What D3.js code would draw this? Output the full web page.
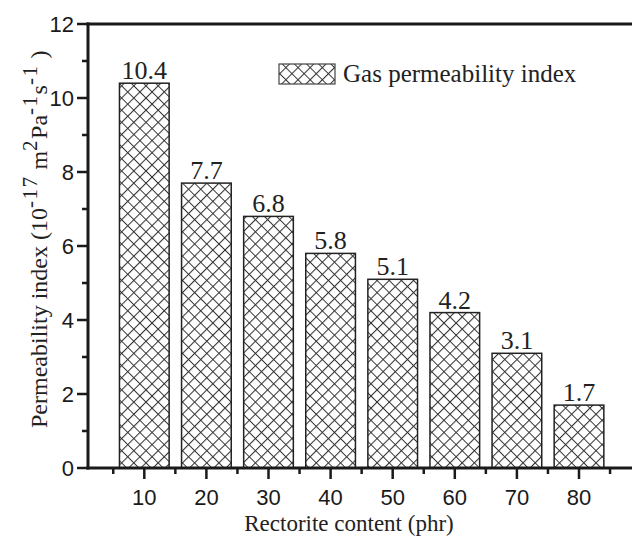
<!DOCTYPE html>
<html><head><meta charset="utf-8">
<script src="https://cdn.jsdelivr.net/npm/d3@7/dist/d3.min.js"></script>
<style>body{margin:0;background:#fff}svg{display:block}</style>
</head><body>
<svg id="chart" width="632" height="539"></svg>
<script>
const categories = [10, 20, 30, 40, 50, 60, 70, 80];
const values = [10.4, 7.7, 6.8, 5.8, 5.1, 4.2, 3.1, 1.7];
const labels = ["10.4", "7.7", "6.8", "5.8", "5.1", "4.2", "3.1", "1.7"];
const yTicks = [0, 2, 4, 6, 8, 10, 12];
const yMinor = [1, 3, 5, 7, 9, 11];
const xTicks = [10, 20, 30, 40, 50, 60, 70, 80];
const xMinor = [5, 15, 25, 35, 45, 55, 65, 75, 85];
const legendLabel = "Gas permeability index";
const xTitle = "Rectorite content (phr)";

const svg = d3.select("#chart");
const serif = "'Liberation Serif','Times New Roman',serif";
const sans = "'Liberation Sans',Arial,sans-serif";

const x = d3.scaleLinear().domain([10, 80]).range([144.3, 579]);
const y = d3.scaleLinear().domain([0, 12]).range([468, 24]);
const barHalf = 4;

// hatch pattern
const defs = svg.append("defs");
defs.append("pattern").attr("id", "hatch").attr("patternUnits", "userSpaceOnUse")
  .attr("width", 8.6).attr("height", 8.6).attr("patternTransform", "rotate(45)")
  .append("path").attr("d", "M0,0.5H8.6M0.5,0V8.6")
  .attr("stroke", "#333").attr("stroke-width", 1.1).attr("fill", "none");

// bars
svg.append("g").selectAll("rect").data(categories).join("rect")
  .attr("x", (d) => x(d - barHalf))
  .attr("width", (d) => x(d + barHalf) - x(d - barHalf))
  .attr("y", (d, i) => y(values[i]))
  .attr("height", (d, i) => y(0) - y(values[i]))
  .attr("fill", "url(#hatch)").attr("stroke", "#222").attr("stroke-width", 1.5);

// bar labels
svg.append("g").selectAll("text").data(categories).join("text")
  .attr("x", (d) => x(d)).attr("y", (d, i) => y(values[i]) - 4)
  .attr("text-anchor", "middle").attr("font-family", serif).attr("font-size", 26)
  .attr("fill", "#222").text((d, i) => labels[i]);

// axes
const ax = svg.append("g").attr("stroke", "#1a1a1a").attr("stroke-width", 3);
ax.append("line").attr("x1", 88).attr("x2", 88).attr("y1", y(12) - 1.5).attr("y2", y(0) + 1.5);
ax.append("line").attr("x1", 86.5).attr("x2", 632).attr("y1", y(0)).attr("y2", y(0));
ax.append("line").attr("x1", 86.5).attr("x2", 632).attr("y1", y(12)).attr("y2", y(12));

const tk = svg.append("g").attr("stroke", "#1a1a1a").attr("stroke-width", 2.5);
tk.selectAll(".ym").data(yTicks).join("line")
  .attr("x1", 77).attr("x2", 88).attr("y1", (d) => y(d)).attr("y2", (d) => y(d));
tk.selectAll(".yn").data(yMinor).join("line")
  .attr("x1", 82).attr("x2", 88).attr("y1", (d) => y(d)).attr("y2", (d) => y(d));
tk.selectAll(".xm").data(xTicks).join("line")
  .attr("x1", (d) => x(d)).attr("x2", (d) => x(d)).attr("y1", 468).attr("y2", 479);
tk.selectAll(".xn").data(xMinor).join("line")
  .attr("x1", (d) => x(d)).attr("x2", (d) => x(d)).attr("y1", 468).attr("y2", 474);

svg.append("g").selectAll("text").data(yTicks).join("text")
  .attr("x", 74).attr("y", (d) => y(d) + 8).attr("text-anchor", "end")
  .attr("font-family", sans).attr("font-size", 22).attr("fill", "#1a1a1a").text((d) => d);
svg.append("g").selectAll("text").data(xTicks).join("text")
  .attr("x", (d) => x(d)).attr("y", 505).attr("text-anchor", "middle")
  .attr("font-family", sans).attr("font-size", 22).attr("fill", "#1a1a1a").text((d) => d);

// x title
svg.append("text").attr("x", 349).attr("y", 531).attr("text-anchor", "middle")
  .attr("font-family", serif).attr("font-size", 23).attr("fill", "#222").text(xTitle);

// y title
const yt = svg.append("text").attr("transform", "translate(47,428) rotate(-90)")
  .attr("text-anchor", "start").attr("font-family", serif).attr("font-size", 24).attr("fill", "#222");
const parts = [["Permeability index (10", 0], ["-17", 1], [" m", 0], ["2", 1], ["Pa", 0], ["-1", 1], ["s", 0], ["-1", 1], [" )", 0]];
let prevSup = 0;
parts.forEach(([t, s]) => {
  const dy = s === prevSup ? 0 : (s ? -10 : 10);
  yt.append("tspan").attr("dy", dy).attr("font-size", s ? 21 : 24)
    .attr("letter-spacing", s ? 1.5 : 0).text(t);
  prevSup = s;
});

// legend
svg.append("rect").attr("x", 279).attr("y", 64).attr("width", 56).attr("height", 20)
  .attr("fill", "url(#hatch)").attr("stroke", "#444").attr("stroke-width", 1.2);
svg.append("text").attr("x", 343).attr("y", 82).attr("font-family", serif).attr("font-size", 25)
  .attr("fill", "#222").text(legendLabel);
</script>
</body></html>
